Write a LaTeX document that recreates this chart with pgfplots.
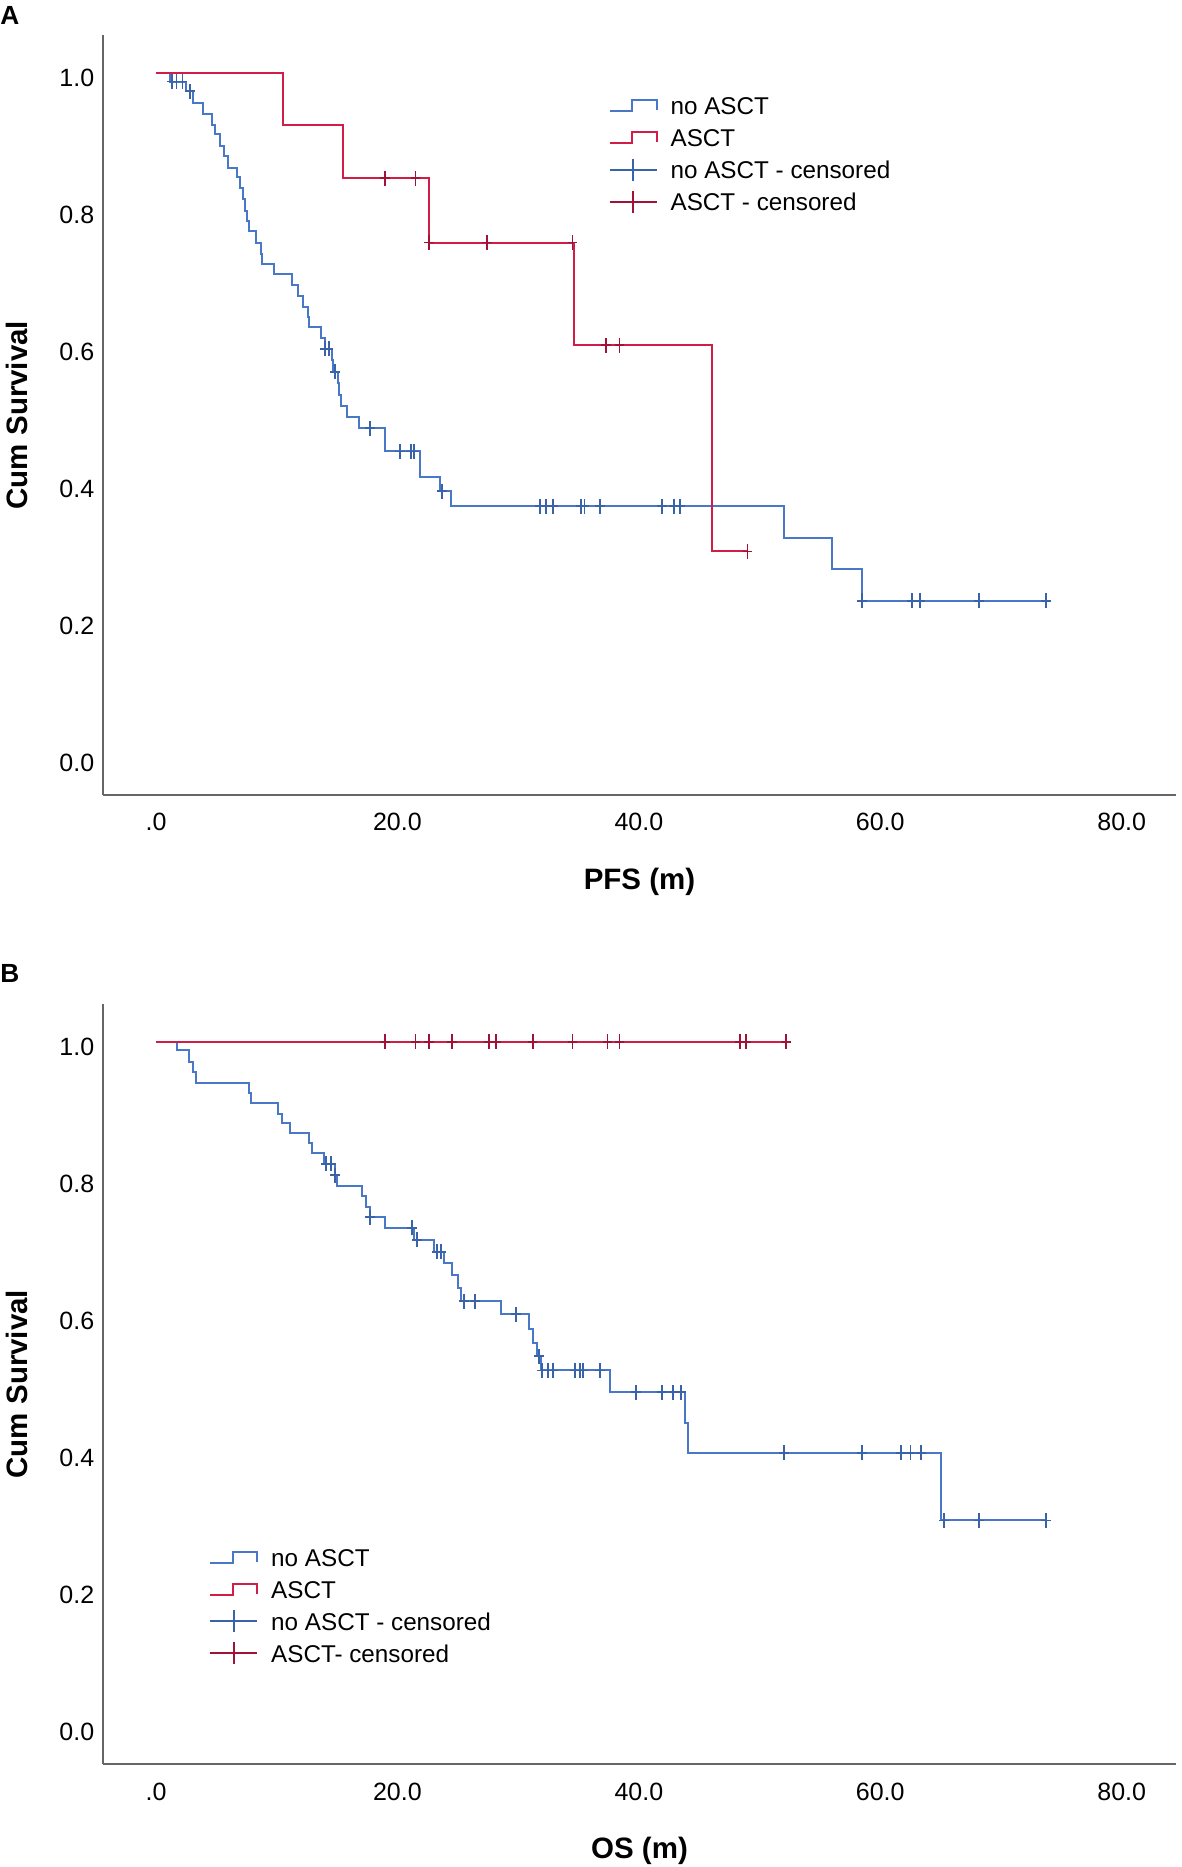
\documentclass[border=0pt]{standalone}
\usepackage{fontspec}
\setmainfont{Liberation Sans}
\usepackage{pgfplots}
\pgfplotsset{compat=1.18}
\definecolor{bl}{HTML}{4A78C8}
\definecolor{blm}{HTML}{3A62A8}
\definecolor{rd}{HTML}{D01E48}
\definecolor{rdm}{HTML}{A01238}
\pgfdeclareplotmark{cens}{%
  \pgfpathmoveto{\pgfqpoint{0pt}{-\pgfplotmarksize}}%
  \pgfpathlineto{\pgfqpoint{0pt}{\pgfplotmarksize}}%
  \pgfpathmoveto{\pgfqpoint{-0.65\pgfplotmarksize}{0pt}}%
  \pgfpathlineto{\pgfqpoint{0.65\pgfplotmarksize}{0pt}}%
  \pgfusepathqstroke}
\pgfplotsset{kmaxis/.style={
  scale only axis, width=429.2pt, height=304.1pt,
  xmin=-4.39, xmax=84.5, ymin=-0.0549, ymax=1.055,
  axis x line*=bottom, axis y line*=left,
  axis line style={-, black!60, line width=0.8pt},
  xtick={0,20,40,60,80}, xticklabels={.0,20.0,40.0,60.0,80.0},
  ytick={0,0.2,0.4,0.6,0.8,1}, yticklabels={0.0,0.2,0.4,0.6,0.8,1.0},
  major tick length=0pt, tick style={draw=none},
  tick label style={font=\fontsize{10}{12}\selectfont},
  xticklabel style={anchor=base, yshift=-14.3pt},
  yticklabel style={yshift=-2.2pt},
  label style={font=\bfseries\fontsize{11.8}{14}\selectfont},
  xlabel style={at={(axis description cs:0.5,-0.1141)}, anchor=center},
  ylabel style={at={(axis description cs:-0.0801,0.5)}, anchor=center},
  legend cell align=left,
  legend style={draw=none, fill=none, inner sep=0pt, outer sep=0pt,
    row sep=5.6pt, column sep=5.2pt,
    nodes={inner sep=0pt, text height=7.2pt, text depth=0pt},
    font=\fontsize{9.7}{11}\selectfont},
  clip=false,
}}
\pgfplotsset{
  stepimg/.style={legend image code/.code={%
    \draw[#1, line width=0.75pt] (0pt,-2.2pt) -- (9pt,-2.2pt) -- (9pt,2.2pt) -- (18.8pt,2.2pt) -- (18.8pt,-1.8pt);}},
  censimg/.style={legend image code/.code={%
    \draw[#1, line width=0.75pt] (0pt,0pt) -- (18.8pt,0pt);
    \draw[#1, line width=0.75pt, overlay] (9.4pt,-4.4pt) -- (9.4pt,4.4pt);}},
}
\begin{document}
\begin{tikzpicture}
\path[use as bounding box] (0pt,0pt) rectangle (472.8pt,746.8pt);
\node[anchor=base west, inner sep=0pt, font=\bfseries\fontsize{10.5}{12}\selectfont] at (0pt,736.9pt) {A};
\node[anchor=base west, inner sep=0pt, font=\bfseries\fontsize{10.5}{12}\selectfont] at (0pt,353.6pt) {B};
% ---------------- Panel A: PFS ----------------
\begin{axis}[kmaxis, at={(41.2pt,428.7pt)}, anchor=south west,
  xlabel={PFS (m)}, ylabel={Cum Survival},
  legend style={at={(axis description cs:0.4713,0.9188)}, anchor=north west}]
\addplot[const plot, bl, line width=0.8pt, stepimg=bl] coordinates {
(0,1.0) (1.2,0.987) (2.5,0.973) (3.1,0.956) (3.9,0.939) (4.6,0.924) (4.9,0.910)
(5.3,0.893) (5.6,0.878) (6.0,0.861) (6.7,0.847) (7.0,0.832) (7.2,0.815) (7.4,0.798)
(7.5,0.784) (7.7,0.769) (8.3,0.752) (8.7,0.735) (8.8,0.720) (9.8,0.706) (11.3,0.690)
(11.8,0.674) (12.2,0.658) (12.6,0.643) (12.7,0.628) (13.7,0.612) (14.0,0.597)
(14.6,0.580) (14.7,0.563) (15.1,0.547) (15.2,0.530) (15.3,0.514) (15.8,0.498)
(16.8,0.481) (19.0,0.447) (21.9,0.409) (23.5,0.389) (24.4,0.367) (52.0,0.320)
(56.0,0.275) (58.5,0.229) (73.7,0.229)};
\addlegendentry{no ASCT}
\addplot[const plot, rd, line width=0.8pt, stepimg=rd] coordinates {
(0,1.0) (10.5,0.923) (15.5,0.846) (22.6,0.752) (34.6,0.602) (46.1,0.301) (49.0,0.301)};
\addlegendentry{ASCT}
\addplot[only marks, mark=cens, mark size=3pt, blm, mark options={line width=0.75pt}, censimg=blm] coordinates {
(1.3,0.987) (1.7,0.987) (2.2,0.987) (2.8,0.973) (14.0,0.597) (14.3,0.597) (14.8,0.563)
(17.7,0.481) (20.2,0.447) (21.1,0.447) (21.4,0.447) (23.7,0.389)
(31.8,0.367) (32.3,0.367) (32.9,0.367) (35.2,0.367) (35.5,0.367) (36.8,0.367)
(41.9,0.367) (42.9,0.367) (43.4,0.367)
(58.5,0.229) (62.6,0.229) (63.3,0.229) (68.2,0.229) (73.7,0.229)};
\addlegendentry{no ASCT - censored}
\addplot[only marks, mark=cens, mark size=3pt, rdm, mark options={line width=0.75pt}, censimg=rdm] coordinates {
(19.0,0.846) (21.5,0.846) (22.6,0.752) (27.4,0.752) (34.5,0.752) (37.3,0.602) (38.4,0.602) (49.0,0.301)};
\addlegendentry{ASCT - censored}
\end{axis}
% ---------------- Panel B: OS ----------------
\begin{axis}[kmaxis, at={(41.2pt,41.1pt)}, anchor=south west,
  xlabel={OS (m)}, ylabel={Cum Survival},
  legend style={at={(axis description cs:0.0991,0.284)}, anchor=north west}]
\addplot[const plot, bl, line width=0.8pt, stepimg=bl] coordinates {
(0,1.0) (1.7,0.988) (2.7,0.971) (3.05,0.956) (3.3,0.940) (7.7,0.925) (7.9,0.911)
(10.1,0.895) (10.4,0.881) (11.1,0.866) (12.65,0.852) (12.95,0.837) (13.9,0.822)
(14.8,0.805) (15.0,0.789) (17.1,0.774) (17.4,0.759) (17.7,0.744) (19.0,0.728)
(21.4,0.711) (23.0,0.693) (23.85,0.677) (24.5,0.660) (25.0,0.640) (25.3,0.621)
(28.6,0.602) (30.9,0.581) (31.2,0.560) (31.6,0.541) (31.9,0.520) (37.6,0.488)
(43.8,0.444) (44.1,0.400) (65.0,0.301) (73.7,0.301)};
\addlegendentry{no ASCT}
\addplot[const plot, rd, line width=0.8pt, stepimg=rd] coordinates {
(0,1.0) (52.2,1.0)};
\addlegendentry{ASCT}
\addplot[only marks, mark=cens, mark size=3pt, blm, mark options={line width=0.75pt}, censimg=blm] coordinates {
(14.1,0.822) (14.5,0.822) (14.8,0.805) (17.7,0.744) (21.2,0.728) (21.6,0.711)
(23.3,0.693) (23.6,0.693) (25.5,0.621) (26.4,0.621) (29.8,0.602) (31.7,0.541)
(32.0,0.520) (32.5,0.520) (32.9,0.520) (34.7,0.520) (35.1,0.520) (35.4,0.520) (36.8,0.520)
(39.75,0.488) (41.9,0.488) (42.8,0.488) (43.5,0.488)
(52.0,0.400) (58.5,0.400) (61.7,0.400) (62.5,0.400) (63.4,0.400)
(65.3,0.301) (68.2,0.301) (73.7,0.301)};
\addlegendentry{no ASCT - censored}
\addplot[only marks, mark=cens, mark size=3pt, rdm, mark options={line width=0.75pt}, censimg=rdm] coordinates {
(19.0,1.0) (21.5,1.0) (22.6,1.0) (24.5,1.0) (27.6,1.0) (28.2,1.0) (31.2,1.0)
(34.5,1.0) (37.4,1.0) (38.4,1.0) (48.4,1.0) (48.9,1.0) (52.2,1.0)};
\addlegendentry{ASCT- censored}
\end{axis}
\end{tikzpicture}
\end{document}
